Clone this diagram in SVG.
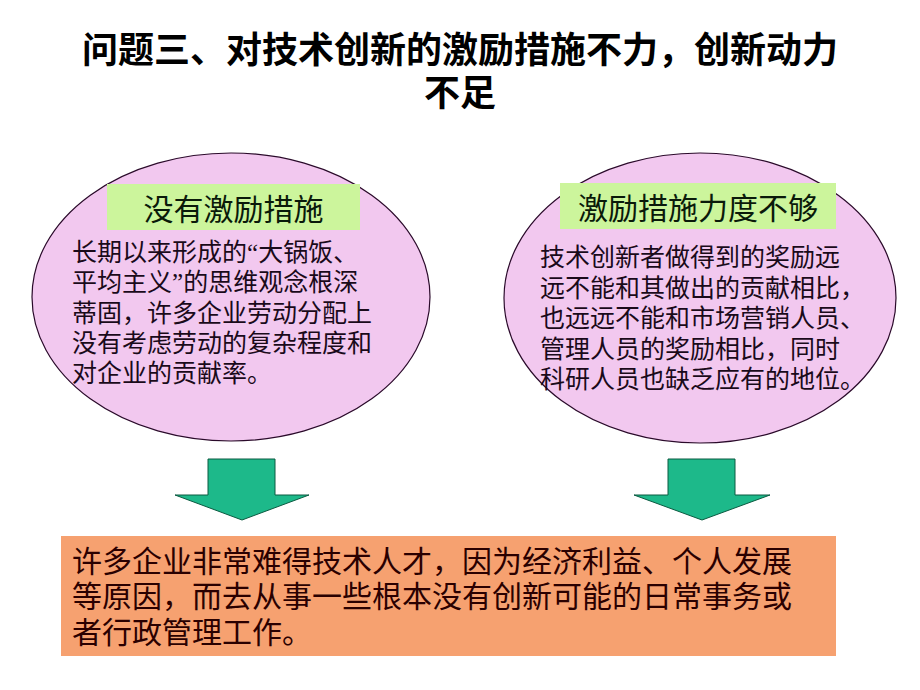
<svg xmlns="http://www.w3.org/2000/svg" width="920" height="690" viewBox="0 0 920 690">
<style>
.title{font-family:"Noto Sans CJK SC","Noto Sans CJK JP",sans-serif;font-size:36px;font-weight:bold;fill:#000;text-anchor:middle}
.ell{fill:#f2c8ef;stroke:#2a0a2a;stroke-width:1.2}
.lab{fill:#ccf59c}
.labt{font-family:"Noto Sans CJK SC",sans-serif;font-size:30px;fill:#0a1a0a;text-anchor:middle}
.body{font-family:"Noto Sans CJK SC",sans-serif;font-size:25px;fill:#1a0a1a}
.q{font-family:"Liberation Serif","Noto Sans CJK SC",serif}
.arrow{fill:#1db98a;stroke:#0a5a40;stroke-width:1}
.box{fill:#f6a170}
.boxt{font-family:"Noto Sans CJK SC",sans-serif;font-size:30px;fill:#2a0000}
</style>
<rect width="920" height="690" fill="#fff"/>
<g id="title">
<text class="title" x="460" y="63">问题三、对技术创新的激励措施不力，创新动力</text>
<text class="title" x="460" y="106">不足</text>
</g>
<g id="node-left">
<ellipse class="ell" cx="231" cy="297" rx="199" ry="144"/>
<rect class="lab" x="107" y="184" width="253" height="46"/>
<text class="labt" x="233.5" y="220">没有激励措施</text>
<text class="body" x="72" y="261">长期以来形成的<tspan class="q">“</tspan>大锅饭、</text>
<text class="body" x="72" y="291">平均主义<tspan class="q">”</tspan>的思维观念根深</text>
<text class="body" x="72" y="322">蒂固，许多企业劳动分配上</text>
<text class="body" x="72" y="352">没有考虑劳动的复杂程度和</text>
<text class="body" x="72" y="382">对企业的贡献率。</text>
</g>
<g id="node-right">
<ellipse class="ell" cx="700" cy="298" rx="196" ry="145"/>
<rect class="lab" x="560" y="183" width="276" height="46"/>
<text class="labt" x="698" y="219">激励措施力度不够</text>
<text class="body" x="540" y="266">技术创新者做得到的奖励远</text>
<text class="body" x="540" y="296.5">远不能和其做出的贡献相比，</text>
<text class="body" x="540" y="327">也远远不能和市场营销人员、</text>
<text class="body" x="540" y="357.5">管理人员的奖励相比，同时</text>
<text class="body" x="540" y="388">科研人员也缺乏应有的地位。</text>
</g>
<g id="connectors">
<polygon class="arrow" points="208,459 275,459 275,495 309,495 242,520 175,495 208,495"/>
<polygon class="arrow" points="668,459 735,459 735,495 770,495 702,520 634,495 668,495"/>
</g>
<g id="node-bottom">
<rect class="box" x="61" y="536" width="775" height="120"/>
<text class="boxt" x="72" y="572">许多企业非常难得技术人才，因为经济利益、个人发展</text>
<text class="boxt" x="72" y="607">等原因，而去从事一些根本没有创新可能的日常事务或</text>
<text class="boxt" x="72" y="643">者行政管理工作。</text>
</g>
</svg>
